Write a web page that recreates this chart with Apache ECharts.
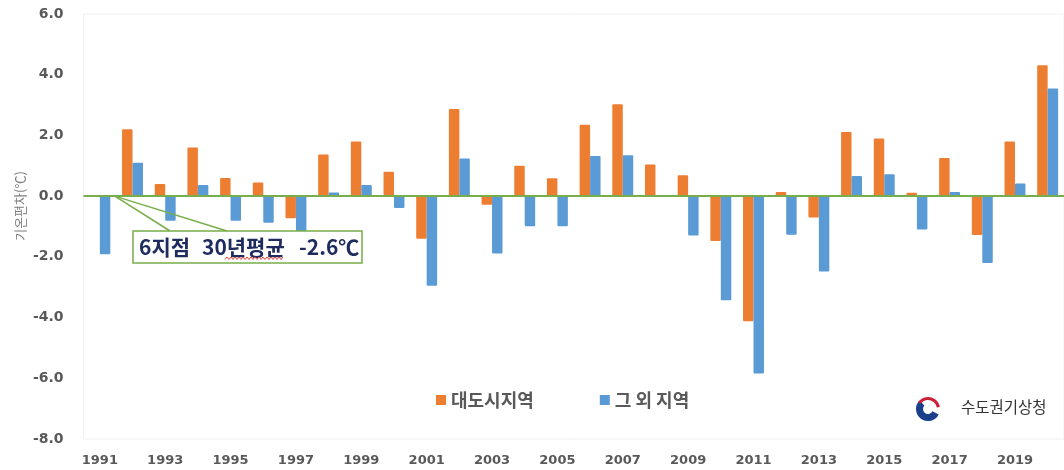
<!DOCTYPE html>
<html><head><meta charset="utf-8">
<script src="https://cdn.jsdelivr.net/npm/echarts@6/dist/echarts.min.js"></script>
<style>html,body{margin:0;padding:0;background:#fff}#c{width:1064px;height:470px}</style>
</head><body><div id="c"></div>
<script>
const years = ['1991','1992','1993','1994','1995','1996','1997','1998','1999','2000',
  '2001','2002','2003','2004','2005','2006','2007','2008','2009','2010',
  '2011','2012','2013','2014','2015','2016','2017','2018','2019','2020'];
const metroValues = [0.0, 2.2, 0.4, 1.6, 0.6, 0.45, -0.73, 1.37, 1.8, 0.8,
  -1.4, 2.87, -0.28, 1.0, 0.59, 2.35, 3.03, 1.04, 0.69, -1.48,
  -4.12, 0.14, -0.7, 2.11, 1.9, 0.11, 1.26, -1.28, 1.8, 4.31];
const otherValues = [-1.91, 1.1, -0.81, 0.37, -0.81, -0.88, -2.0, 0.12, 0.37, -0.39,
  -2.95, 1.24, -1.89, -0.99, -0.99, 1.32, 1.35, 0.0, -1.3, -3.43,
  -5.84, -1.27, -2.48, 0.66, 0.72, -1.1, 0.14, -2.2, 0.42, 3.55];
const seriesNames = ['대도시지역', '그 외 지역'];
const yMin = -8, yMax = 6, yStep = 2;
const yAxisTitle = '기온편차(℃)';
const noteParts = ['6지점', '30년평균', '-2.6℃'];
const agencyName = '수도권기상청';

const GREEN = '#77ad4a';
const chart = echarts.init(document.getElementById('c'), null, {renderer: 'canvas'});
chart.setOption({
  animation: false,
  backgroundColor: '#ffffff',
  grid: {left: 83.5, top: 14, width: 986, height: 425, show: true, borderColor: '#f0f0f0', borderWidth: 1},
  legend: {
    left: 436, top: 391, padding: 0, icon: 'rect', itemWidth: 10, itemHeight: 10, itemGap: 66,
    textStyle: {fontFamily: '"Noto Sans CJK KR"', fontSize: 18, fontWeight: 'bold', color: '#595959'}
  },
  xAxis: {
    type: 'category', data: years,
    axisLine: {show: false}, axisTick: {show: false}, splitLine: {show: false},
    axisLabel: {interval: 1, margin: 15, color: '#595959', fontFamily: '"DejaVu Sans"', fontWeight: 'bold', fontSize: 13}
  },
  yAxis: {
    type: 'value', min: yMin, max: yMax, interval: yStep,
    axisLine: {show: false}, axisTick: {show: false}, splitLine: {show: false},
    axisLabel: {formatter: v => v.toFixed(1), margin: 20, color: '#595959', fontFamily: '"DejaVu Sans"', fontWeight: 'bold', fontSize: 14}
  },
  series: [
    {name: seriesNames[0], type: 'bar', data: metroValues, barGap: '0%', barCategoryGap: '36%',
     itemStyle: {color: '#ED7D31', borderRadius: 1}},
    {name: seriesNames[1], type: 'bar', data: otherValues, barGap: '0%', barCategoryGap: '36%',
     itemStyle: {color: '#5B9BD5', borderRadius: 1},
     markLine: {silent: true, symbol: 'none', label: {show: false},
       lineStyle: {color: GREEN, width: 2, type: 'solid'}, data: [{yAxis: 0}]}}
  ]
});

const tipX = chart.convertToPixel({xAxisIndex: 0}, years[0]) + 15;
const zeroY = chart.convertToPixel({yAxisIndex: 0}, 0);
const wave = [];
for (let x = 225, i = 0; x <= 283; x += 2, i++) wave.push([x, i % 2 ? 257 : 259.5]);
const noteFont = 'bold 21px "Noto Sans CJK KR"';
const noteX = [139, 202, 299];

chart.setOption({
  graphic: [
    {type: 'text', x: 20, y: 206, rotation: Math.PI / 2,
     style: {text: yAxisTitle, fill: '#7f7f7f', font: '13px "Noto Sans CJK KR"', align: 'center', verticalAlign: 'middle'}},
    {type: 'line', z: 10, shape: {x1: tipX, y1: zeroY, x2: 170, y2: 231}, style: {stroke: GREEN, lineWidth: 1.5}},
    {type: 'line', z: 10, shape: {x1: tipX, y1: zeroY, x2: 227, y2: 231}, style: {stroke: GREEN, lineWidth: 1.5}},
    {type: 'rect', z: 11, shape: {x: 133, y: 231, width: 229, height: 32}, style: {fill: '#ffffff', stroke: GREEN, lineWidth: 1.5}},
    ...noteParts.map((t, i) => ({type: 'text', z: 12, x: noteX[i], y: 247,
      style: {text: t, font: noteFont, fill: '#1e2b5e', verticalAlign: 'middle'}})),
    {type: 'polyline', z: 12, shape: {points: wave}, style: {stroke: '#e0403a', lineWidth: 1, fill: 'none'}},
    {type: 'arc', z: 12, shape: {cx: 928, cy: 409, r: 8.5, startAngle: 0.15 * Math.PI, endAngle: 1.25 * Math.PI, clockwise: true},
     style: {stroke: '#1b3f8b', lineWidth: 7, fill: 'none'}},
    {type: 'arc', z: 12, shape: {cx: 928, cy: 409, r: 10.5, startAngle: 1.2 * Math.PI, endAngle: 1.95 * Math.PI, clockwise: true},
     style: {stroke: '#cd1f36', lineWidth: 3, fill: 'none'}},
    {type: 'text', z: 12, x: 961, y: 407,
     style: {text: agencyName, font: '15.5px "Noto Sans CJK KR"', fill: '#333333', verticalAlign: 'middle'}}
  ]
});
</script>
</body></html>
